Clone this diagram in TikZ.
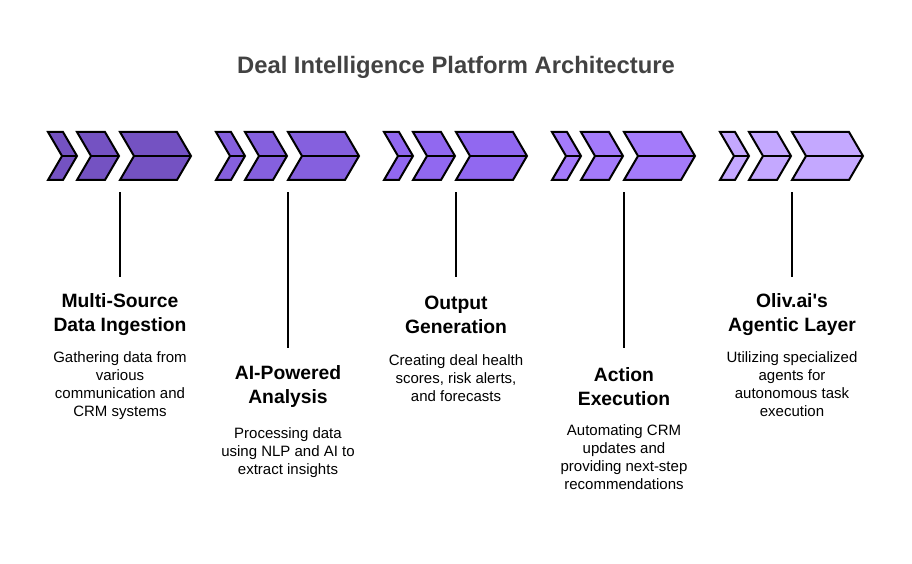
\documentclass[tikz,border=0pt]{standalone}
\usepackage{fontspec}
\setmainfont{Liberation Sans}
\definecolor{cA}{RGB}{116,82,194}
\definecolor{cB}{RGB}{133,96,222}
\definecolor{cC}{RGB}{145,104,240}
\definecolor{cD}{RGB}{164,123,250}
\definecolor{cE}{RGB}{196,168,255}
\definecolor{titlegray}{RGB}{66,66,66}
\tikzset{
  chev/.style={draw=black, line width=2pt, line join=miter},
  midl/.style={draw=black, line width=2pt},
  stem/.style={draw=black, line width=2pt},
  head/.style={font=\fontsize{19.3}{24}\selectfont\bfseries, align=center, inner sep=0pt},
  desc/.style={font=\fontsize{15}{18}\selectfont, align=center, inner sep=0pt},
}
\begin{document}
\begin{tikzpicture}[x=1pt,y=-1pt]
\useasboundingbox (0,0) rectangle (912,564);
\node[font=\fontsize{23.8}{28}\selectfont\bfseries, text=titlegray, inner sep=0pt] (title) at (456,67) {Deal Intelligence Platform Architecture};
% chevrons
\foreach \g/\col in {0/cA,1/cB,2/cC,3/cD,4/cE}{
  \pgfmathsetmacro{\base}{48+168*\g}
  \foreach \off/\w in {0/15,29/28,72/57}{
    \pgfmathsetmacro{\L}{\base+\off}
    \filldraw[chev, fill=\col] (\L,132) -- ++(\w,0) -- ++(14,24) -- ++(-14,24) -- ++(-\w,0) -- ++(14,-24) -- cycle;
    \draw[midl] (\L+14,156) -- ++(\w,0);
  }
  \coordinate (top\g) at (\base+72,192);
}
% headings
\node[head] (h0) at (120,315) {Multi-Source\\Data Ingestion};
\node[head] (h1) at (288,387) {AI-Powered\\Analysis};
\node[head] (h2) at (456,315) {Output\\Generation};
\node[head] (h3) at (624,387) {Action\\Execution};
\node[head] (h4) at (792,315) {Oliv.ai\textquotesingle s\\Agentic Layer};
% stems
\draw[stem] (top0) -- (120,277);
\draw[stem] (top1) -- (288,348);
\draw[stem] (top2) -- (456,277);
\draw[stem] (top3) -- (624,348);
\draw[stem] (top4) -- (792,277);
% descriptions
\node[desc, anchor=north] (d0) at (120,351) {Gathering data from\\various\\communication and\\CRM systems};
\node[desc, anchor=north] (d1) at (288,427) {Processing data\\using NLP and AI to\\extract insights};
\node[desc, anchor=north] (d2) at (456,354) {Creating deal health\\scores, risk alerts,\\and forecasts};
\node[desc, anchor=north] (d3) at (624,424) {Automating CRM\\updates and\\providing next-step\\recommendations};
\node[desc, anchor=north] (d4) at (792,351) {Utilizing specialized\\agents for\\autonomous task\\execution};
\end{tikzpicture}
\end{document}
